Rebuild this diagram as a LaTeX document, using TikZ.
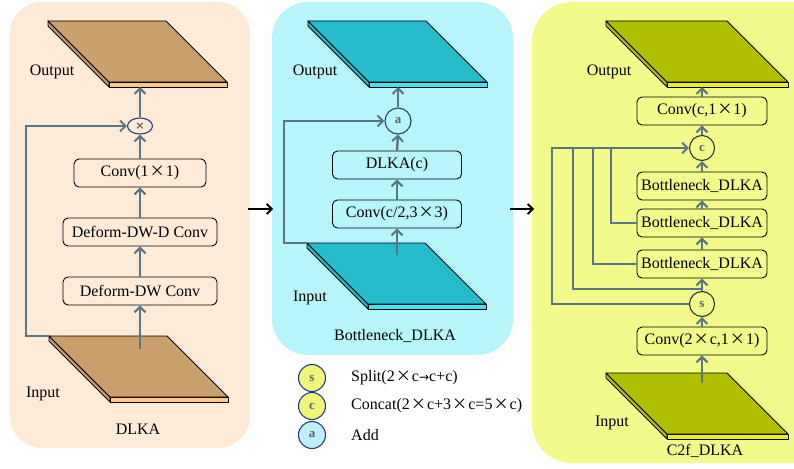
\documentclass[tikz,border=0pt]{standalone}
\usepackage{fontspec}
\setmainfont{Liberation Serif}
\newfontfamily\cjkf{Noto Sans CJK SC}[Scale=0.95]
\newfontfamily\symf{DejaVu Sans}
\usetikzlibrary{arrows.meta,shapes.geometric,calc}

\definecolor{bgA}{HTML}{FDEBD8}
\definecolor{topA}{HTML}{C9A06B}
\definecolor{frontA}{HTML}{FFC97F}
\definecolor{bgB}{HTML}{B8F5FB}
\definecolor{topB}{HTML}{27BCCB}
\definecolor{frontB}{HTML}{40E3F3}
\definecolor{bgC}{HTML}{F3FA8C}
\definecolor{topC}{HTML}{B0C000}
\definecolor{frontC}{HTML}{E6F01C}
\definecolor{flow}{HTML}{5B7584}
\definecolor{ring}{HTML}{24407A}
\definecolor{legY}{HTML}{F0F47A}
\definecolor{legB}{HTML}{BEEFFA}
\definecolor{opgray}{HTML}{606060}

% wide multiplication sign and small arrow
\newcommand\tms{\kern1pt{\cjkf\fontsize{16}{16}\selectfont ×}\kern1pt}
\newcommand\tor{{\symf\fontsize{12}{12}\selectfont →}}

% a flat 3D slab: name, x, y (top-left corner), width, top colour, front colour
\newcommand\slab[6]{%
  \coordinate (#1-tl) at (#2,#3);
  \coordinate (#1-b) at ({#2+#4/2+61},{#3+66});
  \filldraw[slabline,fill=#5] (#2,#3) -- ++(61,61) -- ++(0,5) -- ++(-61,-61) -- cycle;
  \filldraw[slabline,fill=#6] ({#2+61},{#3+61}) rectangle ++(#4,5);
  \filldraw[slabline,fill=#5] (#2,#3) -- ++(#4,0) -- ++(61,61) -- ++(-#4,0) -- cycle;
}

\tikzset{
  slabline/.style={draw=black,line width=0.9pt,line join=round},
  box/.style={draw=black,rounded corners=5pt,line width=0.9pt,minimum height=28pt,inner sep=1pt},
  arr/.style={draw=flow,line width=2.4pt,-{Straight Barb[length=5.5pt,width=11pt,line width=2pt]}},
  link/.style={draw=flow,line width=2.4pt},
  hop/.style={draw=black,line width=2pt,-{Straight Barb[length=5pt,width=10pt,line width=1.8pt]}},
  op/.style={draw=ring,line width=1.1pt,circle,minimum size=26pt,inner sep=0pt,
             font=\fontsize{13}{13}\selectfont\bfseries,text=opgray},
  lbl/.style={inner sep=0pt},
}

\begin{document}
\begin{tikzpicture}[x=1pt,y=-1pt,font=\fontsize{16}{18}\selectfont]
\useasboundingbox (0,0) rectangle (794,468);
\clip (0,0) rectangle (794,468);

% panel backgrounds
\fill[bgA,rounded corners=32pt] (10,2) rectangle (250,448);
\fill[bgB,rounded corners=36pt] (272,2) rectangle (513,355);
\fill[bgC,rounded corners=40pt] (532,2) rectangle (840,463);

% ---------------- DLKA ----------------
\slab{aout}{48}{21}{118}{topA}{frontA}
\slab{ain}{49}{336}{118}{topA}{frontA}
\node[box,minimum width=132pt] (aconv) at (140,173) {Conv(1\tms1)};
\node[box,minimum width=154pt] (addw) at (140,232) {Deform-DW-D Conv};
\node[box,minimum width=154pt] (adw) at (140,291) {Deform-DW Conv};
\node[op,ellipse,minimum width=25pt,minimum height=16pt,font=\symf\fontsize{11}{11}\selectfont\bfseries] (amul) at (140,126) {×};
\node[lbl] (aoutl) at (52,72) {Output};
\node[lbl] (ainl) at (43,394) {Input};
\node[lbl] (aname) at (138,429) {DLKA};
\coordinate (aup) at (140,349);
\coordinate (askip) at (26,126);
\draw[arr] (aup) -- (adw.south);
\draw[arr] (adw.north) -- (addw.south);
\draw[arr] (addw.north) -- (aconv.south);
\draw[arr] (aconv.north) -- (amul.south);
\draw[arr] (amul.north) -- (amul.north |- aout-b);
\draw[arr] (ain-tl) -| (askip) -- (amul.west);

% ---------------- Bottleneck_DLKA ----------------
\slab{bout}{308}{21}{118}{topB}{frontB}
\slab{bin}{307}{243}{118}{topB}{frontB}
\node[box,minimum width=129pt] (bconv) at (397,214) {Conv(c/2,3\tms3)};
\node[box,minimum width=129pt] (bdlka) at (397,165) {DLKA(c)};
\node[op] (badd) at (398,121) {a};
\node[lbl] (boutl) at (315,72) {Output};
\node[lbl] (binl) at (310,298) {Input};
\node[lbl] (bname) at (395,336) {Bottleneck\_DLKA};
\coordinate (bup) at (397,255);
\coordinate (bskip) at (284,121);
\draw[arr] (bup) -- (bconv.south);
\draw[arr] (bconv.north) -- (bdlka.south);
\draw[arr] (bdlka.north) -- (badd.south);
\draw[arr] (badd.north) -- (badd.north |- bout-b);
\draw[arr] (bin-tl) -| (bskip) -- (badd.west);

% legend
\node[op,fill=legY,minimum size=27pt] (ls) at (312,378) {s};
\node[op,fill=legY,minimum size=27pt] (lc) at (312,406) {c};
\node[op,fill=legB,minimum size=27pt] (la) at (312,435) {a};
\node[lbl,anchor=west] (lst) at (351,378) {Split(2\tms c\tor c+c)};
\node[lbl,anchor=west] (lct) at (351,406) {Concat(2\tms c+3\tms c=5\tms c)};
\node[lbl,anchor=west] (lat) at (351,435) {Add};

% ---------------- C2f_DLKA ----------------
\slab{cout}{606}{21}{121}{topC}{frontC}
\slab{cin}{606}{373}{121}{topC}{frontC}
\node[box,minimum width=130pt] (cconv1) at (702,111) {Conv(c,1\tms1)};
\node[box,minimum width=130pt] (cb1) at (702,186) {Bottleneck\_DLKA};
\node[box,minimum width=130pt] (cb2) at (702,223) {Bottleneck\_DLKA};
\node[box,minimum width=130pt] (cb3) at (702,264) {Bottleneck\_DLKA};
\node[box,minimum width=130pt] (cconv2) at (702,341) {Conv(2\tms c,1\tms1)};
\node[op,draw=black!80,minimum size=25pt] (ccat) at (702,148) {c};
\node[op,draw=black!80,minimum size=25pt] (csplit) at (702,304) {s};
\node[lbl] (coutl) at (609,72) {Output};
\node[lbl] (cinl) at (612,423) {Input};
\node[lbl] (cname) at (705,451) {C2f\_DLKA};
\coordinate (cup) at (702,383);
\coordinate (cj) at (702,289);
\coordinate (ck1) at (552,148);
\coordinate (ck2) at (573,148);
\coordinate (ck3) at (593,148);
\coordinate (ck4) at (611,148);
\draw[arr] (cup) -- (cconv2.south);
\draw[arr] (cconv2.north) -- (csplit.south);
\draw[arr] (csplit.north) -- (cb3.south);
\draw[arr] (cb3.north) -- (cb2.south);
\draw[arr] (cb2.north) -- (cb1.south);
\draw[arr] (cb1.north) -- (ccat.south);
\draw[arr] (ccat.north) -- (cconv1.south);
\draw[arr] (cconv1.north) -- (cconv1.north |- cout-b);
\draw[link] (cj) -| (ck2);
\draw[link] (cb3.west) -| (ck3);
\draw[link] (cb2.west) -| (ck4);
\draw[arr] (csplit.west) -| (ck1) -- (ccat.west);

% flow between panels
\coordinate (h1a) at (248,209);
\coordinate (h1b) at (273,209);
\coordinate (h2a) at (510,209);
\coordinate (h2b) at (534,209);
\draw[hop] (h1a) -- (h1b);
\draw[hop] (h2a) -- (h2b);
\end{tikzpicture}
\end{document}
